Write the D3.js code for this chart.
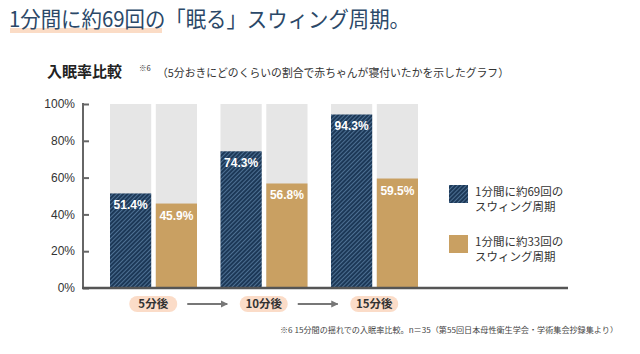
<!DOCTYPE html>
<html>
<head>
<meta charset="utf-8">
<script src="https://cdn.jsdelivr.net/npm/d3@7"></script>
<style>
  body { margin: 0; background: #fff; }
  svg { display: block; }
  text { font-family: "Noto Sans CJK JP", "Noto Sans", sans-serif; }
  .num { font-family: "Liberation Sans", Arial, sans-serif; }
</style>
</head>
<body>
<script>
// sleep onset comparison, 3 time points x 2 swing periods

var categories = ["5分後", "10分後", "15分後"];
var series69 = [51.4, 74.3, 94.3]; // 1分間に約69回
var series33 = [45.9, 56.8, 59.5]; // 1分間に約33回
var seriesKeys = ["s69", "s33"];
var legendLabels = [["1分間に約69回の", "スウィング周期"], ["1分間に約33回の", "スウィング周期"]];
var yTicks = [0, 20, 40, 60, 80, 100];

var width = 640,
    height = 354;

var svg = d3.select("body")
    .append("svg")
    .attr("width", width)
    .attr("height", height);

//hatch pattern for the navy bars
var defs = svg.append("defs");
var pat = defs.append("pattern")
    .attr("id", "hatch")
    .attr("patternUnits", "userSpaceOnUse")
    .attr("width", 3)
    .attr("height", 3)
    .attr("patternTransform", "rotate(45)");
pat.append("rect").attr("width", 3).attr("height", 3).attr("fill", "#1c3857");
pat.append("rect").attr("width", 1).attr("height", 3).attr("fill", "#4d7093");

var colors = { s69: "url(#hatch)", s33: "#c9a062" };

//title
svg.append("rect")
    .attr("x", 10).attr("y", 28)
    .attr("width", 152).attr("height", 5)
    .attr("fill", "#fbdcc6");
svg.append("text")
    .attr("x", 9).attr("y", 27)
    .attr("font-size", 21.5)
    .attr("fill", "#2b4868")
    .attr("textLength", 401)
    .attr("lengthAdjust", "spacingAndGlyphs")
    .text("1分間に約69回の「眠る」スウィング周期。");

//subtitle
svg.append("text")
    .attr("x", 47).attr("y", 77)
    .attr("font-size", 15)
    .attr("font-weight", "bold")
    .attr("fill", "#222")
    .text("入眠率比較");
svg.append("text")
    .attr("x", 139).attr("y", 71)
    .attr("font-size", 7.5)
    .attr("fill", "#333")
    .text("※6");
svg.append("text")
    .attr("x", 157).attr("y", 77)
    .attr("font-size", 11)
    .attr("fill", "#333")
    .attr("textLength", 352)
    .attr("lengthAdjust", "spacingAndGlyphs")
    .text("（5分おきにどのくらいの割合で赤ちゃんが寝付いたかを示したグラフ）");

//scales
var x = d3.scaleBand()
    .domain(categories)
    .range([98, 429.5]);

var xs = d3.scaleBand()
    .domain(seriesKeys)
    .range([12, 99])
    .paddingInner(0.1);

var y = d3.scaleLinear()
    .domain([0, 100])
    .range([288, 104]);

//background bars
var groups = svg.selectAll(".group")
    .data(categories)
    .enter()
    .append("g")
    .attr("class", "group")
    .attr("transform", function(d){ return "translate(" + x(d) + ",0)"; });

groups.selectAll(".bg")
    .data(seriesKeys)
    .enter()
    .append("rect")
    .attr("class", "bg")
    .attr("x", function(k){ return xs(k); })
    .attr("y", y(100))
    .attr("width", xs.bandwidth())
    .attr("height", y(0) - y(100))
    .attr("fill", "#e6e6e6");

//value bars
groups.each(function(cat, i){
    var vals = [{k: "s69", v: series69[i]}, {k: "s33", v: series33[i]}];
    var g = d3.select(this);
    g.selectAll(".bar")
        .data(vals)
        .enter()
        .append("rect")
        .attr("class", "bar")
        .attr("x", function(d){ return xs(d.k); })
        .attr("y", function(d){ return y(d.v); })
        .attr("width", xs.bandwidth())
        .attr("height", function(d){ return y(0) - y(d.v); })
        .attr("fill", function(d){ return colors[d.k]; });
    g.selectAll(".val")
        .data(vals)
        .enter()
        .append("text")
        .attr("class", "val num")
        .attr("x", function(d){ return xs(d.k) + xs.bandwidth() / 2; })
        .attr("y", function(d){ return y(d.v) + 16; })
        .attr("text-anchor", "middle")
        .attr("font-size", 12)
        .attr("font-weight", "bold")
        .attr("fill", "#fff")
        .text(function(d){ return d.v.toFixed(1) + "%"; });
});

//y axis
var yAxis = svg.append("g")
    .attr("transform", "translate(83,0)")
    .call(d3.axisRight(y).tickValues(yTicks).tickSize(6).tickFormat(""));
yAxis.select(".domain").remove();
yAxis.selectAll("line").attr("stroke", "#666").attr("stroke-width", 2);

svg.append("line")
    .attr("x1", 83).attr("x2", 83)
    .attr("y1", y(100) - 1).attr("y2", y(0))
    .attr("stroke", "#666").attr("stroke-width", 2);
svg.append("line")
    .attr("x1", 82).attr("x2", 568)
    .attr("y1", y(0)).attr("y2", y(0))
    .attr("stroke", "#555").attr("stroke-width", 2.5);

svg.selectAll(".ytick")
    .data(yTicks)
    .enter()
    .append("text")
    .attr("class", "ytick num")
    .attr("x", 75)
    .attr("y", function(d){ return y(d); })
    .attr("dy", "0.35em")
    .attr("text-anchor", "end")
    .attr("font-size", 12)
    .attr("fill", "#333")
    .text(function(d){ return d + "%"; });

//category pills
var pills = svg.selectAll(".pill")
    .data(categories)
    .enter()
    .append("g")
    .attr("class", "pill")
    .attr("transform", function(d){ return "translate(" + (x(d) + x.bandwidth() / 2) + ",304)"; });
pills.append("rect")
    .attr("x", -24).attr("y", -8)
    .attr("width", 48).attr("height", 16)
    .attr("rx", 8)
    .attr("fill", "#fbdcc8");
pills.append("text")
    .attr("text-anchor", "middle")
    .attr("dy", "0.36em")
    .attr("font-size", 11.5)
    .attr("font-weight", "bold")
    .attr("fill", "#333")
    .text(function(d){ return d; });

//arrows between pills
defs.append("marker")
    .attr("id", "arrow")
    .attr("viewBox", "0 0 10 10")
    .attr("refX", 9).attr("refY", 5)
    .attr("markerWidth", 4).attr("markerHeight", 4)
    .attr("orient", "auto")
    .append("path")
    .attr("d", "M0,0 L10,5 L0,10 z")
    .attr("fill", "#777");

svg.selectAll(".arrow")
    .data(categories.slice(0, -1))
    .enter()
    .append("line")
    .attr("class", "arrow")
    .attr("x1", function(d){ return x(d) + x.bandwidth() / 2 + 34; })
    .attr("x2", function(d){ return x(d) + x.bandwidth() / 2 + 74; })
    .attr("y1", 304).attr("y2", 304)
    .attr("stroke", "#777")
    .attr("stroke-width", 1.8)
    .attr("marker-end", "url(#arrow)");

//legend
var legend = svg.selectAll(".legend")
    .data(seriesKeys)
    .enter()
    .append("g")
    .attr("class", "legend")
    .attr("transform", function(d, i){ return "translate(449," + (185 + i * 50) + ")"; });
legend.append("rect")
    .attr("width", 19).attr("height", 18)
    .attr("fill", function(d){ return colors[d]; });
legend.each(function(d, i){
    var t = d3.select(this).append("text")
        .attr("font-size", 11.5)
        .attr("fill", "#333");
    t.selectAll("tspan")
        .data(legendLabels[i])
        .enter()
        .append("tspan")
        .attr("x", 26)
        .attr("y", function(s, j){ return 11 + j * 15; })
        .text(function(s){ return s; });
});

//footnote
svg.append("text")
    .attr("x", 280).attr("y", 333)
    .attr("font-size", 7.5)
    .attr("fill", "#444")
    .attr("textLength", 338)
    .attr("lengthAdjust", "spacingAndGlyphs")
    .text("※6 15分間の揺れでの入眠率比較。n＝35（第55回日本母性衛生学会・学術集会抄録集より）");
</script>
</body>
</html>
